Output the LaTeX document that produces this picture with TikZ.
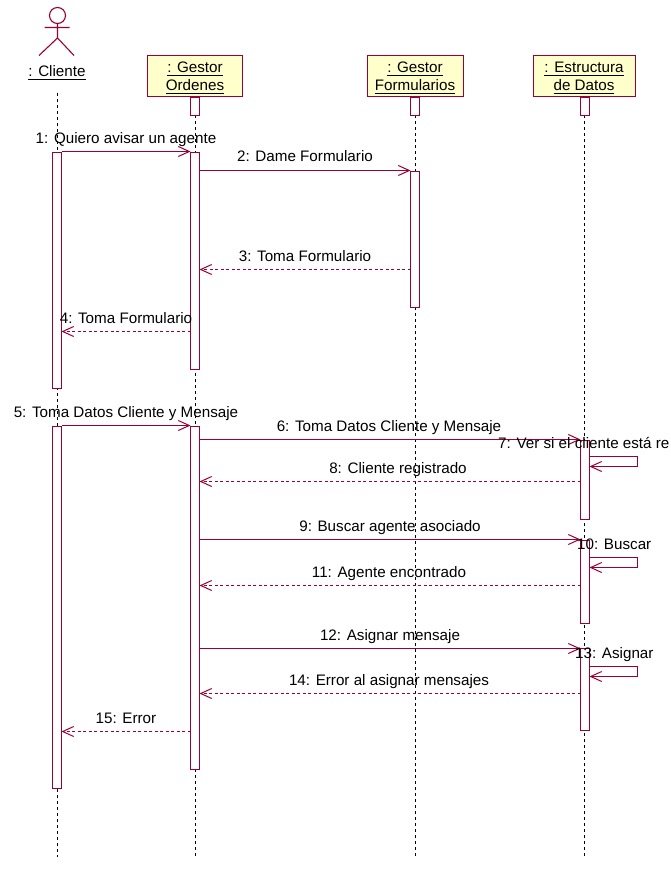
\documentclass[tikz,border=0pt]{standalone}
\usepackage{fontspec}
\setmainfont{Liberation Sans}
\usetikzlibrary{arrows.meta}
\definecolor{umlred}{HTML}{990033}
\definecolor{umlyellow}{HTML}{FFFFCC}
\tikzset{
  umlline/.style={draw=umlred,line width=1.1pt},
  lifeline/.style={draw=black,line width=1pt,dash pattern=on 3pt off 3pt},
  headbox/.style={umlline,fill=umlyellow,inner sep=0pt,outer sep=0pt,anchor=north west},
  actbox/.style={umlline,fill=white,inner sep=0pt,outer sep=0pt,anchor=north,minimum width=9pt},
  msg/.style={umlline,-{Straight Barb[length=11pt,width=10pt,line width=1pt]}},
  reply/.style={msg,dash pattern=on 3pt off 2.5pt},
  label/.style={font=\fontsize{15.2}{17}\selectfont,inner sep=0pt,anchor=base,text=black},
  headtxt/.style={font=\fontsize{15.2}{17}\selectfont,inner sep=0pt,outer sep=0pt,text height=11pt,text depth=3pt,text=black},
  under/.style={draw=black,line width=1pt}
}
\newcommand{\actbar}[4]{\node[actbox,minimum height=#4pt-#3pt] (#1) at (#2,#3) {};}
\newcommand{\headtext}[4]{\node[headtxt] (#1) at (#2,#3) {#4};
  \draw[under] (#1.south west) -- (#1.south east);}
\begin{document}
\begin{tikzpicture}[x=1pt,y=-1pt]
\useasboundingbox (0,0) rectangle (671,896);
\clip (0,0) rectangle (671,896);
% head boxes
\node[headbox,minimum width=95pt,minimum height=41pt] (gestorO) at (147.5,55.5) {};
\node[headbox,minimum width=96pt,minimum height=41pt] (gestorF) at (367.5,55.5) {};
\node[headbox,minimum width=102pt,minimum height=41pt] (estruct) at (533.5,55.5) {};
% actor
\node[circle,umlline,outer sep=0pt,minimum size=16pt,inner sep=0pt] (head) at (57.5,15.5) {};
\coordinate (hip) at (57.5,38);
\coordinate (armL) at (44.5,27.5);
\coordinate (armR) at (69.5,27.5);
\coordinate (footL) at (39,55.5);
\coordinate (footR) at (74,55.5);
\draw[umlline] (head.south) -- (hip) (armL) -- (armR) (footL) -- (hip) -- (footR);
% lifeline ends
\coordinate (endC) at (57.5,857);
\coordinate (endG) at (195.5,857);
\coordinate (endF) at (415.5,857);
\coordinate (endE) at (584.5,857);
\coordinate (startC) at (57.5,93);
\draw[lifeline] (startC) -- (endC);
\draw[lifeline] (195.5,115) -- (endG);
\draw[lifeline] (415.5,115) -- (endF);
\draw[lifeline] (584.5,115) -- (endE);
% small bars under heads
\actbar{topG}{195}{97.5}{115.5}
\actbar{topF}{415}{97.5}{115.5}
\actbar{topE}{585}{97.5}{115.5}
% activation bars
\actbar{cA}{57}{152.5}{388.5}
\actbar{cB}{57}{426.5}{788.5}
\actbar{gA}{195}{152.5}{369.5}
\actbar{gB}{195}{426.5}{769.5}
\actbar{fA}{415}{171.5}{307.5}
\actbar{eA}{585}{440.5}{519.5}
\actbar{eB}{585}{540.5}{623.5}
\actbar{eC}{585}{648.5}{730.5}
% messages
\draw[msg] (cA.east |- 0,151.5) -- (gA.west |- 0,151.5);
\draw[msg] (gA.east |- 0,170.5) -- (fA.west |- 0,170.5);
\draw[reply] (fA.west |- 0,269.5) -- (gA.east |- 0,269.5);
\draw[reply] (gA.west |- 0,331.5) -- (cA.east |- 0,331.5);
\draw[msg] (cB.east |- 0,425.5) -- (gB.west |- 0,425.5);
\draw[msg] (gB.east |- 0,439.5) -- (eA.west |- 0,439.5);
\draw[reply] (eA.west |- 0,481.5) -- (gB.east |- 0,481.5);
\draw[msg] (gB.east |- 0,539.5) -- (eB.west |- 0,539.5);
\draw[reply] (eB.west |- 0,585.5) -- (gB.east |- 0,585.5);
\draw[msg] (gB.east |- 0,648.5) -- (eC.west |- 0,648.5);
\draw[reply] (eC.west |- 0,693.5) -- (gB.east |- 0,693.5);
\draw[reply] (gB.west |- 0,731.5) -- (cB.east |- 0,731.5);
% self messages
\draw[msg] (eA.east |- 0,456.5) -- (637.5,456.5) -- (637.5,466.5) -- (eA.east |- 0,466.5);
\draw[msg] (eB.east |- 0,557.5) -- (637.5,557.5) -- (637.5,567.5) -- (eB.east |- 0,567.5);
\draw[msg] (eC.east |- 0,666.5) -- (637.5,666.5) -- (637.5,676.5) -- (eC.east |- 0,676.5);
% head texts
\headtext{tC}{57}{73}{: Cliente}
\headtext{tGa}{195}{68.5}{: Gestor}
\headtext{tGb}{195}{86.5}{Ordenes}
\headtext{tFa}{415}{68.5}{: Gestor}
\headtext{tFb}{415}{86.5}{Formularios}
\headtext{tEa}{584}{68.5}{: Estructura}
\headtext{tEb}{584}{86.5}{de Datos}
% labels
\node[label] (l1) at (126,143.5) {1: Quiero avisar un agente};
\node[label] (l2) at (305,162) {2: Dame Formulario};
\node[label] (l3) at (305,261) {3: Toma Formulario};
\node[label] (l4) at (126,323) {4: Toma Formulario};
\node[label] (l5) at (126,417) {5: Toma Datos Cliente y Mensaje};
\node[label] (l6) at (389,431) {6: Toma Datos Cliente y Mensaje};
\node[label,anchor=base west] (l7) at (498,448) {7: Ver si el cliente está re};
\node[label] (l8) at (398,473) {8: Cliente registrado};
\node[label] (l9) at (390,531) {9: Buscar agente asociado};
\node[label,anchor=base west] (l10) at (577,549.5) {10: Buscar};
\node[label] (l11) at (389,577) {11: Agente encontrado};
\node[label] (l12) at (390,640) {12: Asignar mensaje};
\node[label,anchor=base west] (l13) at (575,658) {13: Asignar};
\node[label] (l14) at (389,685) {14: Error al asignar mensajes};
\node[label] (l15) at (126,723) {15: Error};
\end{tikzpicture}
\end{document}
